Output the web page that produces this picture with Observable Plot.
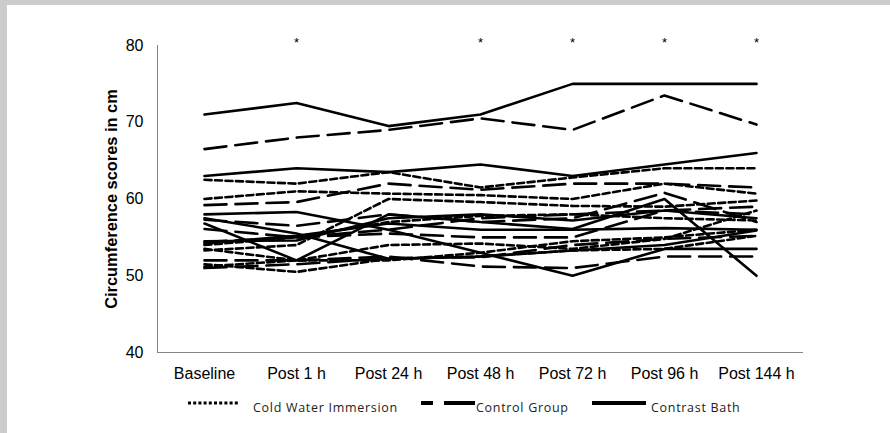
<!DOCTYPE html>
<html>
<head>
<meta charset="utf-8">
<script src="https://cdn.jsdelivr.net/npm/d3@7"></script>
<script src="https://cdn.jsdelivr.net/npm/@observablehq/plot@0.6"></script>
<style>
  html, body { margin: 0; padding: 0; background: #cccccc; }
  #box { position: absolute; left: 7px; top: 5px; width: 883px; height: 428px; background: #ffffff; overflow: hidden; }
  #chart svg { display: block; }
  #chart g[aria-label="y-axis label"] text { font-weight: bold; font-size: 16.4px; }
  .leg { position: absolute; top: 388px; height: 22px; display: flex; align-items: center; }
  .leg span { font-family: "Open Sans", "DejaVu Sans", sans-serif; font-size: 12.5px; letter-spacing: 0.7px; color: #222; position: relative; top: 3px; white-space: nowrap; }
</style>
</head>
<body>
<div id="box">
  <div id="chart"></div>
  <div class="leg" style="left:181px"><svg width="52" height="22"><line x1="0" x2="52" y1="10" y2="10" stroke="#000" stroke-width="3" stroke-dasharray="3,2.2"></line></svg></div>
  <div class="leg" style="left:246px"><span>Cold Water Immersion</span></div>
  <div class="leg" style="left:414px"><svg width="54" height="22"><line x1="0" x2="54" y1="10" y2="10" stroke="#000" stroke-width="4" stroke-dasharray="12,11,31"></line></svg></div>
  <div class="leg" style="left:469px"><span>Control Group</span></div>
  <div class="leg" style="left:585px"><svg width="54" height="22"><line x1="0" x2="54" y1="10" y2="10" stroke="#000" stroke-width="4"></line></svg></div>
  <div class="leg" style="left:644px"><span>Contrast Bath</span></div>
</div>
<script>
const categories = ["Baseline", "Post 1 h", "Post 24 h", "Post 48 h", "Post 72 h", "Post 96 h", "Post 144 h"];
const starred = ["Post 1 h", "Post 48 h", "Post 72 h", "Post 96 h", "Post 144 h"];
const yTicks = [40, 50, 60, 70, 80];

// Cold Water Immersion (dotted)
const coldWater = [
  [62.5, 62.0, 63.5, 61.5, 62.8, 64.0, 64.0],
  [60.0, 61.0, 60.7, 60.5, 60.0, 62.0, 60.7],
  [53.3, 54.0, 60.0, 59.6, 59.1, 59.0, 59.8],
  [53.5, 52.0, 54.0, 54.2, 53.5, 54.8, 58.5],
  [51.5, 50.5, 52.2, 52.5, 53.3, 53.5, 55.2],
  [54.0, 55.0, 57.0, 57.8, 58.0, 57.5, 57.2],
  [51.2, 52.0, 52.0, 53.0, 54.5, 55.0, 56.0]
];
// Control Group (dashed)
const controlGroup = [
  [66.5, 68.0, 69.0, 70.5, 69.0, 73.5, 69.7],
  [59.2, 59.6, 62.0, 61.2, 62.0, 62.0, 61.5],
  [56.1, 55.0, 55.5, 55.0, 55.0, 58.5, 58.0],
  [54.4, 55.0, 56.0, 57.5, 58.0, 58.5, 59.0],
  [52.0, 52.0, 52.5, 51.2, 51.0, 52.5, 52.5],
  [51.0, 51.5, 52.3, 52.4, 54.0, 54.8, 55.2],
  [57.3, 56.5, 58.0, 57.0, 57.5, 60.8, 57.0]
];
// Contrast Bath (solid)
const contrastBath = [
  [71.0, 72.5, 69.5, 71.0, 75.0, 75.0, 75.0],
  [63.0, 64.0, 63.5, 64.5, 63.0, 64.5, 66.0],
  [58.0, 58.3, 56.0, 53.0, 50.0, 53.5, 53.5],
  [57.5, 55.5, 52.2, 52.5, 53.3, 54.0, 55.9],
  [56.8, 52.0, 58.0, 57.0, 56.1, 60.0, 50.0],
  [54.5, 54.6, 57.5, 58.0, 57.2, 58.5, 57.5],
  [54.2, 55.2, 56.8, 56.0, 56.0, 56.2, 56.0]
];

function toRows(series, group) {
  const rows = [];
  series.forEach((vals, i) => vals.forEach((v, j) => rows.push({group, id: group + i, time: categories[j], value: v})));
  return rows;
}
const cwRows = toRows(coldWater, "cw");
const cgRows = toRows(controlGroup, "cg");
const cbRows = toRows(contrastBath, "cb");

const axisColor = "#868686";
const chart = Plot.plot({
  width: 883,
  height: 385,
  marginLeft: 150,
  marginRight: 87,
  marginTop: 40,
  marginBottom: 38,
  style: {fontFamily: "'Liberation Sans', Arial, sans-serif", fontSize: "16px", background: "white", overflow: "visible", color: "#000"},
  x: {type: "point", domain: categories, padding: 0.5},
  y: {domain: [40, 80], ticks: yTicks},
  marks: [
    Plot.frame({anchor: "left", stroke: axisColor}),
    Plot.ruleY([40], {stroke: axisColor}),
    Plot.axisX({tickSize: 0, tickPadding: 15, fontSize: 16, label: null}),
    Plot.axisY({ticks: yTicks, tickSize: 0, tickPadding: 14, fontSize: 16, label: "Circumference scores in cm", labelAnchor: "center", labelArrow: "none", labelOffset: 52}),
    Plot.line(cwRows, {x: "time", y: "value", z: "id", stroke: "#000", strokeWidth: 2.6, strokeDasharray: "7,3.5", strokeLinejoin: "miter"}),
    Plot.line(cgRows, {x: "time", y: "value", z: "id", stroke: "#000", strokeWidth: 2.6, strokeDasharray: "22,9", strokeLinejoin: "miter"}),
    Plot.line(cbRows, {x: "time", y: "value", z: "id", stroke: "#000", strokeWidth: 2.6, strokeLinejoin: "miter"}),
    Plot.text(starred, {x: d => d, y: 80, dy: -3, text: () => "*", fontSize: 13})
  ]
});
document.getElementById("chart").appendChild(chart);
</script>
</body>
</html>
